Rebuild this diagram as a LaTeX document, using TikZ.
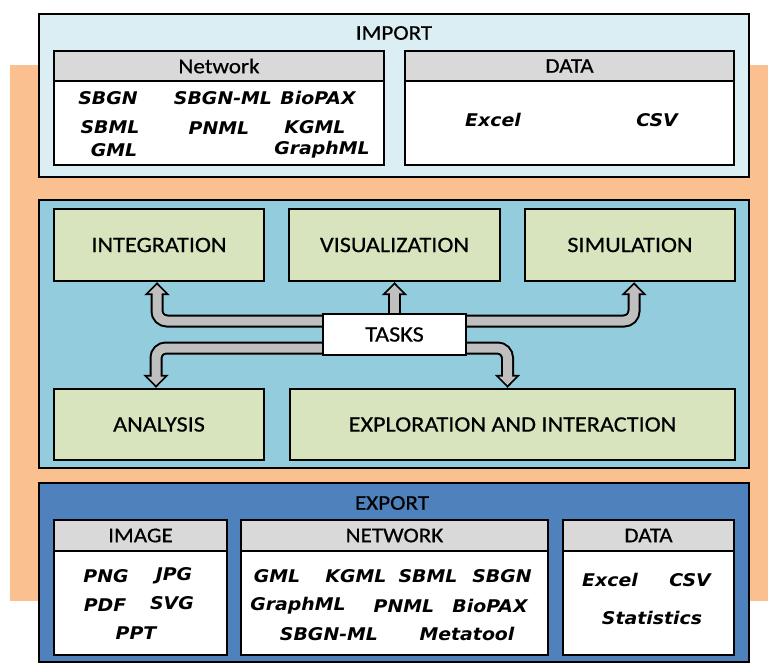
\documentclass[tikz,border=0pt]{standalone}
\usepackage{fontspec}
\setmainfont{Carlito}[FakeStretch=1.1,FakeBold=0.5]
\newfontfamily\itemfont{DejaVu Sans}[FakeStretch=1.08]
\usetikzlibrary{arrows.meta}
\definecolor{peach}{RGB}{250,192,143}
\definecolor{importblue}{RGB}{219,238,244}
\definecolor{taskblue}{RGB}{147,205,221}
\definecolor{exportblue}{RGB}{79,129,189}
\definecolor{taskgreen}{RGB}{215,228,189}
\definecolor{headgray}{RGB}{217,217,217}
\definecolor{arrowgray}{RGB}{191,191,191}

\begin{document}
\begin{tikzpicture}[x=1pt,y=-1pt,box/.style={rectangle,draw,line width=2.4pt,sharp corners,inner sep=0},outer box/.style={box,line width=2.6pt},head/.style={box,fill=headgray,minimum height=30pt,anchor=north,font=\fontsize{21}{23}\selectfont},title/.style={font=\fontsize{21}{23}\selectfont},task/.style={box,fill=taskgreen,font=\fontsize{22}{24}\selectfont},item/.style={inner sep=0,font=\itemfont\bfseries\itshape\fontsize{17.5}{19}\selectfont},tasklink/.style={preaction={draw=black,line width=13pt,shorten >=0pt,-{Triangle[length=13pt,width=25pt]}},draw=arrowgray,line width=9pt,shorten >=2.6pt,-{Triangle[length=8.6pt,width=16.5pt]},rounded corners=10pt}]
  \useasboundingbox (0,0) rectangle (768,663);
  \node[draw=none,fill=peach,minimum width=758pt,minimum height=536pt] (bg) at (389,333) {};
  % import
  \node[outer box,fill=importblue,minimum width=710pt,minimum height=163pt] (imp) at (394,95.5) {};
  \node[title] (impt) at (394,33) {IMPORT};
  \node[box,fill=white,minimum width=330pt,minimum height=114pt] (impnet) at (219,108) {};
  \node[head,minimum width=330pt] (impneth) at (impnet.north) {Network};
  \node[box,fill=white,minimum width=329pt,minimum height=114pt] (impdat) at (569.5,108) {};
  \node[head,minimum width=329pt] (impdath) at (impdat.north) {DATA};
  \node[item] (in1) at (108,98) {SBGN};
  \node[item] (in2) at (223,98) {SBGN-ML};
  \node[item] (in3) at (318,98) {BioPAX};
  \node[item] (in4) at (110,127) {SBML};
  \node[item] (in5) at (219,128) {PNML};
  \node[item] (in6) at (315,127) {KGML};
  \node[item] (in7) at (114,150) {GML};
  \node[item] (in8) at (322,150) {GraphML};
  \node[item] (id1) at (493,120) {Excel};
  \node[item] (id2) at (657,120) {CSV};
  % tasks
  \node[outer box,fill=taskblue,minimum width=710pt,minimum height=268pt] (tsk) at (394,334) {};
  \node[task,minimum width=210pt,minimum height=72pt] (integ) at (159,245) {INTEGRATION};
  \node[task,minimum width=211pt,minimum height=72pt] (visu) at (394.5,245) {VISUALIZATION};
  \node[task,minimum width=210pt,minimum height=72pt] (simu) at (630,245) {SIMULATION};
  \node[task,minimum width=210pt,minimum height=71pt] (anal) at (159,424.5) {ANALYSIS};
  \node[task,minimum width=445pt,minimum height=71pt] (explo) at (512.5,424.5) {EXPLORATION AND INTERACTION};
  \draw[tasklink] (394.5,334.5) -- (visu.south);
  \draw[tasklink] (394.5,321) -| ([xshift=-2pt]integ.south);
  \draw[tasklink] (394.5,321) -| ([xshift=4pt]simu.south);
  \draw[tasklink] (394.5,348) -| ([xshift=-3pt]anal.north);
  \draw[tasklink] (394.5,348) -| ([xshift=-5pt]explo.north);
  \node[box,fill=white,minimum width=143pt,minimum height=41pt,font=\fontsize{22}{24}\selectfont] (tasks) at (394.5,334.5) {TASKS};
  % export
  \node[outer box,fill=exportblue,minimum width=710pt,minimum height=179pt] (exp) at (394,572.5) {};
  \node[title] (expt) at (392,503) {EXPORT};
  \node[box,fill=white,minimum width=173pt,minimum height=135pt] (eimg) at (140.5,587.5) {};
  \node[head,minimum width=173pt,minimum height=31pt] (eimgh) at (eimg.north) {IMAGE};
  \node[box,fill=white,minimum width=307pt,minimum height=135pt] (enet) at (394.5,587.5) {};
  \node[head,minimum width=307pt,minimum height=31pt] (eneth) at (enet.north) {NETWORK};
  \node[box,fill=white,minimum width=171pt,minimum height=135pt] (edat) at (648.5,587.5) {};
  \node[head,minimum width=171pt,minimum height=31pt] (edath) at (edat.north) {DATA};
  \node[item] (e1) at (106,576) {PNG};
  \node[item] (e2) at (174,576) {JPG};
  \node[item] (e3) at (105,605) {PDF};
  \node[item] (e4) at (172,603) {SVG};
  \node[item] (e5) at (136,633) {PPT};
  \node[item] (e6) at (277,576) {GML};
  \node[item] (e7) at (356,576) {KGML};
  \node[item] (e8) at (428,576) {SBML};
  \node[item] (e9) at (502,576) {SBGN};
  \node[item] (e10) at (298,606) {GraphML};
  \node[item] (e11) at (404,606) {PNML};
  \node[item] (e12) at (490,606) {BioPAX};
  \node[item] (e13) at (329,634) {SBGN-ML};
  \node[item] (e14) at (467,634) {Metatool};
  \node[item] (e15) at (610,580) {Excel};
  \node[item] (e16) at (690,580) {CSV};
  \node[item] (e17) at (652,618) {Statistics};
\end{tikzpicture}
\end{document}
